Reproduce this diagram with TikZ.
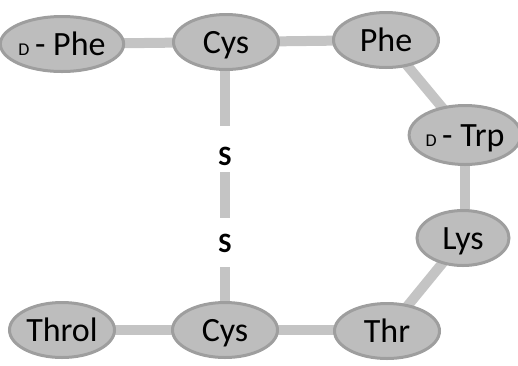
\documentclass[tikz,border=0pt]{standalone}
\usepackage{fontspec}
\setmainfont{Carlito}
\newfontfamily\sbold{Carlito Bold}
\usetikzlibrary{shapes.geometric,backgrounds}
\definecolor{nodefill}{RGB}{189,189,189}
\definecolor{nodeline}{RGB}{158,158,158}
\definecolor{linkgray}{RGB}{196,196,196}
\tikzset{
  res/.style={ellipse, fill=nodefill, draw=nodeline, line width=3pt, inner sep=0pt,
    minimum width=105pt, minimum height=55pt, text height=22pt, text depth=0pt,
    font=\fontsize{34}{34}\selectfont},
  link/.style={draw=linkgray, line width=10pt},
  sulf/.style={font=\sbold\fontsize{28}{28}\selectfont, inner sep=0pt},
}
\newcommand{\dsmall}{{\fontsize{18}{18}\selectfont D}}
\begin{document}
\begin{tikzpicture}[x=1pt,y=-1pt]
\useasboundingbox (0,0) rectangle (518,365);
\node[res] (dphe) at (62,44) {\dsmall\,- Phe};
\node[res] (cys1) at (226,42) {Cys};
\node[res] (phe) at (386,40) {Phe};
\node[res, minimum width=101pt, minimum height=59pt] (dtrp) at (465,135) {\dsmall\,- Trp};
\node[res, minimum width=92pt] (lys) at (463,238) {Lys};
\node[res] (throl) at (62,330) {Throl};
\node[res] (cys2) at (225,330) {Cys};
\node[res] (thr) at (387,331) {Thr};
\node[sulf] (s1) at (225,156) {S};
\node[sulf] (s2) at (225,243) {S};
\coordinate (a1) at (225,126);
\coordinate (b1) at (225,172);
\coordinate (b2) at (225,218);
\coordinate (c1) at (225,267);
\begin{scope}[on background layer]
\draw[link] (dphe.center) -- (cys1.center);
\draw[link] (cys1.center) -- (phe.center);
\draw[link] (phe.center) -- (dtrp.center);
\draw[link] (dtrp.center) -- (dtrp.center |- lys.center);
\draw[link] (lys.center) -- (thr.center);
\draw[link] (throl.center) -- (cys2.center);
\draw[link] (cys2.center) -- (cys2.center -| thr.center);
\draw[link] (cys1.center -| a1) -- (a1);
\draw[link] (b1) -- (b2);
\draw[link] (c1) -- (cys2.center);
\end{scope}
\end{tikzpicture}
\end{document}
